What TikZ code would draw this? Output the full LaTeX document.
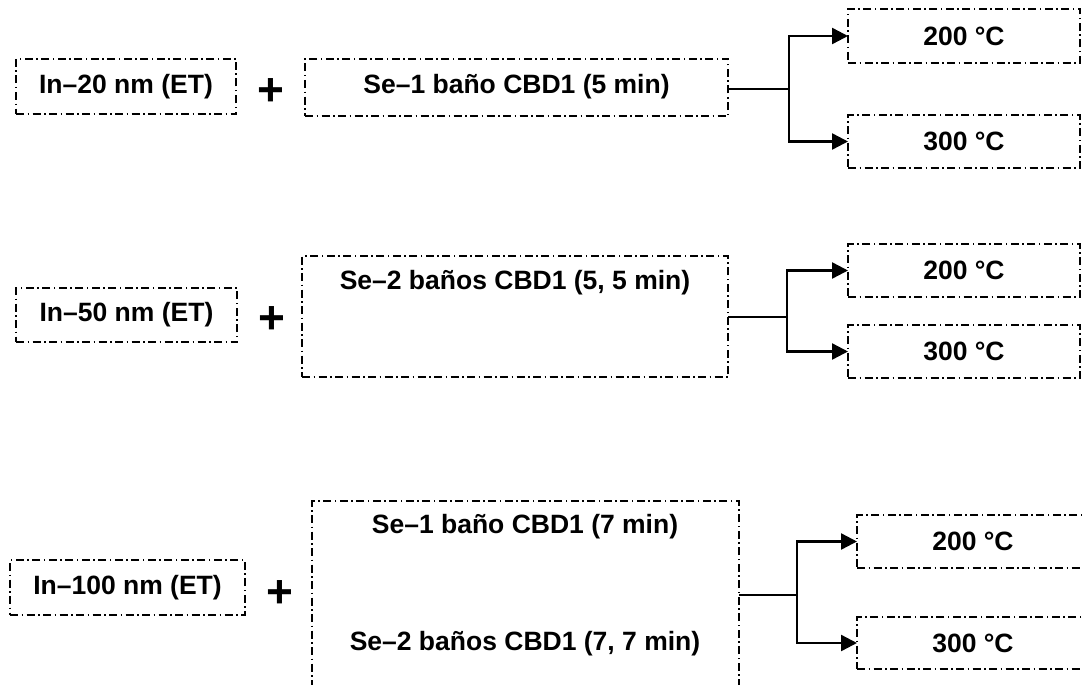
\documentclass[tikz,border=0pt]{standalone}
\usepackage{fontspec}
\setmainfont{Liberation Sans}
\usetikzlibrary{arrows.meta}
\begin{document}
\begin{tikzpicture}[x=1pt,y=-1pt,
  dashdot/.style={draw=black, line width=1.6pt,
    dash pattern=on 8pt off 3.5pt on 1.5pt off 3.5pt},
  box/.style={dashdot, rectangle, inner sep=0pt, outer sep=0pt,
    font=\fontsize{26.5}{30}\selectfont\bfseries},
  label/.style={inner sep=0pt, font=\fontsize{26.5}{30}\selectfont\bfseries},
  plus/.style={inner sep=0pt, font=\fontsize{46}{50}\selectfont\bfseries},
  conn/.style={draw=black, line width=2.4pt},
  arr/.style={conn, -{Triangle[length=16pt,width=16pt]}}]
\useasboundingbox (0,0) rectangle (1082,685);
\clip (0,0) rectangle (1082,685);

% ---- first series: 20 nm ----
\node[box, minimum width=220pt, minimum height=55pt] (in20) at (126,86.5) {In–20 nm (ET)};
\node[plus] (p1) at (271,92) {+};
\node[box, minimum width=423pt, minimum height=57pt] (se1) at (516.5,87.5) {};
\node[label] (t1) at (516.5,87) {Se–1 baño CBD1 (5 min)};
\node[box, minimum width=232pt, minimum height=54pt] (r1a) at (964,36) {200 °C};
\node[box, minimum width=232pt, minimum height=53pt] (r1b) at (964,141.5) {300 °C};
\coordinate (b1) at (789,89);
\draw[conn] (se1.east |- b1) -- (b1);
\draw[arr] (b1) |- (r1a.west);
\draw[arr] (b1) |- (r1b.west);

% ---- second series: 50 nm ----
\node[box, minimum width=221pt, minimum height=54pt] (in50) at (126.5,315) {In–50 nm (ET)};
\node[plus] (p2) at (272,320) {+};
\node[box, minimum width=426pt, minimum height=121pt] (se2) at (515,316.5) {};
\node[label] (t2) at (515,283) {Se–2 baños CBD1 (5, 5 min)};
\node[box, minimum width=232pt, minimum height=53pt] (r2a) at (964,270.5) {200 °C};
\node[box, minimum width=232pt, minimum height=53pt] (r2b) at (964,351.5) {300 °C};
\coordinate (b2) at (787,317);
\draw[conn] (se2.east |- b2) -- (b2);
\draw[arr] (b2) |- (r2a.west);
\draw[arr] (b2) |- (r2b.west);

% ---- third series: 100 nm ----
\node[box, minimum width=235pt, minimum height=55pt] (in100) at (127.5,587.5) {In–100 nm (ET)};
\node[plus] (p3) at (280,594) {+};
\node[box, minimum width=427pt, minimum height=188pt] (se3) at (525.5,595) {};
\node[label] (t3a) at (525,527) {Se–1 baño CBD1 (7 min)};
\node[label] (t3b) at (525,644) {Se–2 baños CBD1 (7, 7 min)};
\node[box, minimum width=232pt, minimum height=53pt] (r3a) at (973,541.5) {200 °C};
\node[box, minimum width=232pt, minimum height=52pt] (r3b) at (973,643) {300 °C};
\coordinate (b3) at (797,595);
\draw[conn] (se3.east |- b3) -- (b3);
\draw[arr] (b3) |- (r3a.west);
\draw[arr] (b3) |- (r3b.west);
\end{tikzpicture}
\end{document}
